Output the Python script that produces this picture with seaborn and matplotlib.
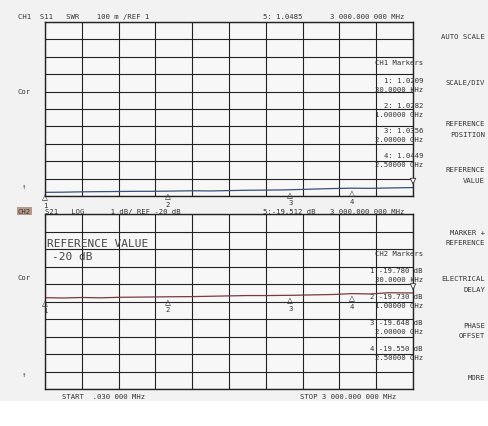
import numpy as np
import matplotlib
matplotlib.use("Agg")
import matplotlib.pyplot as plt
import seaborn as sns
import pandas as pd

# trace readings (freq in MHz)
freq = [0.03, 150, 300, 450, 600, 750, 900, 1000, 1200, 1350, 1500, 1650, 1800, 1950,
        2000, 2200, 2350, 2500, 2650, 2800, 3000]
swr = [1.021, 1.022, 1.024, 1.025, 1.026, 1.027, 1.027, 1.028, 1.030, 1.029, 1.031,
       1.033, 1.034, 1.035, 1.036, 1.040, 1.043, 1.045, 1.044, 1.046, 1.0485]
s21 = [-19.78, -19.80, -19.77, -19.79, -19.76, -19.75, -19.74, -19.73, -19.72, -19.70,
       -19.68, -19.66, -19.66, -19.65, -19.648, -19.62, -19.60, -19.55, -19.57, -19.50, -19.512]

mk_freq = [0.03, 1000, 2000, 2500, 3000]
mk_swr = [1.0209, 1.0282, 1.0356, 1.0449, 1.0485]
mk_s21 = [-19.780, -19.730, -19.648, -19.550, -19.512]
mk_flabel = ["30.0000 kHz", "1.00000 GHz", "2.00000 GHz", "2.50000 GHz"]

df = pd.DataFrame({"freq": freq, "swr": swr, "s21": s21})

sns.set_style("white")
plt.rcParams["font.family"] = ["DejaVu Sans Mono"]
fig = plt.figure(figsize=(4.88, 4.27), dpi=100, facecolor="#f2f2f2")
fs = 5.2

ax1 = fig.add_axes([45/488, 1-197/427, 368/488, 174/427])
ax2 = fig.add_axes([45/488, 1-390/427, 368/488, 175/427])

for ax, col, ylim, mk, colr in [(ax1, "swr", (1.0, 2.0), mk_swr, "#36507a"),
                                (ax2, "s21", (-25, -15), mk_s21, "#7a3a3a")]:
    ax.set_facecolor("#f7f7f7")
    sns.lineplot(data=df, x="freq", y=col, ax=ax, color=colr, lw=0.9)
    ax.set_xlim(0, 3000)
    ax.set_ylim(*ylim)
    ax.set_xticks(np.linspace(0, 3000, 11))
    ax.set_yticks(np.linspace(ylim[0], ylim[1], 11))
    ax.grid(True, color="#222222", lw=0.8)
    ax.tick_params(length=0, labelbottom=False, labelleft=False)
    ax.set_xlabel("")
    ax.set_ylabel("")
    for s in ax.spines.values():
        s.set_color("#222222")
        s.set_linewidth(1.0)
    for i, (f, v) in enumerate(zip(mk_freq, mk)):
        if i == 4:
            ax.annotate("", (f, v), xytext=(0, 7), textcoords="offset points",
                        arrowprops=dict(arrowstyle="-|>", fc="white", ec="#333", lw=0.6))
            continue
        ax.annotate("\u25B3", (f, v), xytext=(0, -3), textcoords="offset points",
                    ha="center", va="center", fontsize=7, color="#333")
        ax.annotate(str(i + 1), (f, v), xytext=(0, -9), textcoords="offset points",
                    ha="center", va="center", fontsize=fs, color="#333")

def t(x, y, s, **kw):
    kw.setdefault("fontsize", fs)
    kw.setdefault("color", "#333333")
    fig.text(x/488, 1-y/427, s, va="center", **kw)

t(18, 17, "CH1  S11   SWR    100 m /REF 1")
t(263, 17, "5: 1.0485")
t(330, 17, "3 000.000 000 MHz")
t(18, 212, "CH2", bbox=dict(fc="#b89a8a", ec="none", pad=0.5))
t(45, 212, "S21   LOG      1 dB/ REF -20 dB")
t(263, 212, "5:-19.512 dB")
t(330, 212, "3 000.000 000 MHz")
t(17, 92, "Cor")
t(17, 278, "Cor")
t(21, 187, "\u2191")
t(21, 375, "\u2191")

t(423, 63, "CH1 Markers", ha="right")
for i in range(4):
    y = 81 + i * 25
    t(423, y, f"{i+1}: {mk_swr[i]:.4f}", ha="right")
    t(423, y + 9, mk_flabel[i], ha="right")
t(423, 254, "CH2 Markers", ha="right")
for i in range(4):
    y = 271 + i * 26
    t(423, y, f"{i+1}:{mk_s21[i]:.3f} dB", ha="right")
    t(423, y + 9, mk_flabel[i], ha="right")

t(47, 244, "REFERENCE VALUE", fontsize=8, color="#444")
t(52, 257, "-20 dB", fontsize=8, color="#444")

menu = [(37, "AUTO SCALE"), (83, "SCALE/DIV"), (124, "REFERENCE"), (135, "POSITION"),
        (170, "REFERENCE"), (181, "VALUE"), (233, "MARKER +"), (243, "REFERENCE"),
        (279, "ELECTRICAL"), (290, "DELAY"), (326, "PHASE"), (336, "OFFSET"), (378, "MORE")]
for y, s in menu:
    t(485, y, s, ha="right")

t(62, 397, "START  .030 000 MHz")
t(300, 397, "STOP 3 000.000 000 MHz")

fig.patches.append(plt.Rectangle((0, 0), 1, 1 - 402/427, transform=fig.transFigure,
                                 fc="white", ec="none", zorder=-1))
fig.savefig("out.png", dpi=100, facecolor=fig.get_facecolor())
